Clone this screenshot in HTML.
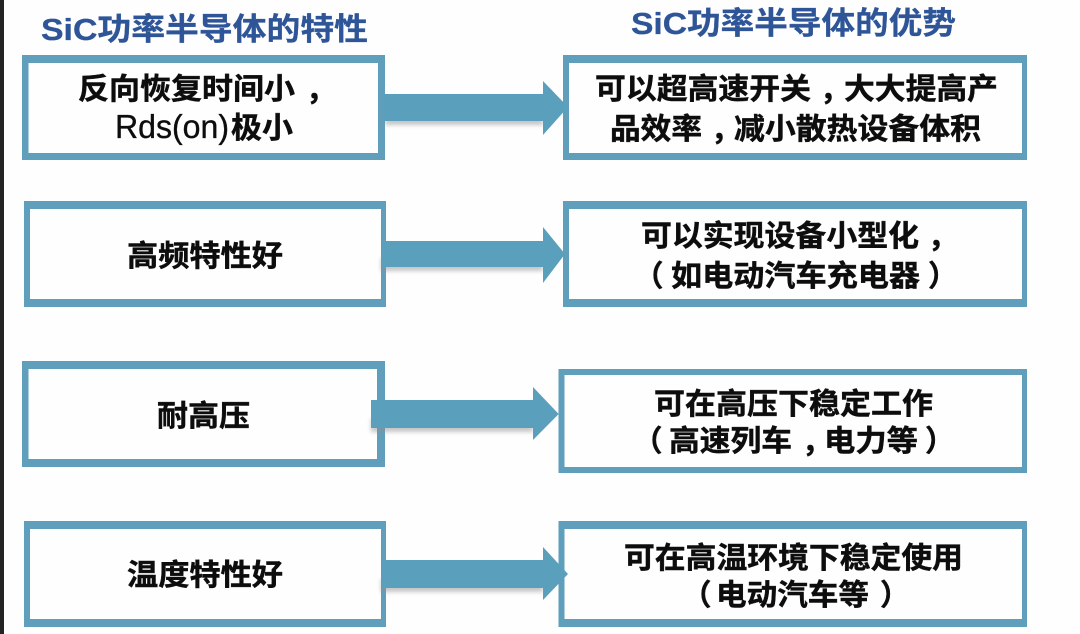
<!DOCTYPE html>
<html lang="zh">
<head>
<meta charset="utf-8">
<style>
html,body{margin:0;padding:0;width:1080px;height:634px;overflow:hidden;background:#fefefe}
svg{display:block}
text{font-family:"Liberation Sans","Noto Sans CJK SC",sans-serif;font-weight:700;fill:#111}
.cn{font-family:"Noto Sans CJK SC","Liberation Sans",sans-serif;stroke:#111;stroke-width:.45}
.t{fill:#2f5597;font-size:31px;stroke:#2f5597;stroke-width:.3}
.b{font-size:29.500px}
.r{font-weight:400;font-size:33px;stroke:#111;stroke-width:.35}
</style>
</head>
<body>
<svg width="1080" height="634" viewBox="0 0 1080 634" xmlns="http://www.w3.org/2000/svg">
<defs>
<filter id="s" x="-5%" y="-30%" width="110%" height="170%"><feGaussianBlur stdDeviation="2"/></filter>
<filter id="soft" x="-2%" y="-10%" width="104%" height="120%"><feGaussianBlur stdDeviation="0.35"/></filter>
</defs>
<rect width="1080" height="634" fill="#fefefe"/>
<rect width="4" height="634" fill="#232323"/>

<g fill="#5f9fbc">
<path d="M22 55H385V160H22ZM28.500 63V153H378V63Z" fill-rule="evenodd"/>
<path d="M24 201H386V307H24ZM30 209V299H381V209Z" fill-rule="evenodd"/>
<path d="M22 361H385V467H22ZM28.500 369V459H377V369Z" fill-rule="evenodd"/>
<path d="M24 521H386V627H24ZM30 529V619H381V529Z" fill-rule="evenodd"/>
<path d="M563 55H1027V160H563ZM569 63V153H1022V63Z" fill-rule="evenodd"/>
<path d="M563 201H1027V307H563ZM569 209V299H1022V209Z" fill-rule="evenodd"/>
<path d="M558.500 369H1027V473H558.500ZM564.500 375V467H1022V375Z" fill-rule="evenodd"/>
<path d="M558.500 521H1027V627H558.500ZM564.500 529V619H1022V529Z" fill-rule="evenodd"/>
</g>

<g fill="#8f8f8f" opacity=".5" filter="url(#s)">
<path d="M385 112H543V125H385Z"/>
<path d="M381 258H543V271H381Z"/>
<path d="M371 419H533V432H371Z"/>
<path d="M381 579H543V592H381Z"/>
</g>
<g fill="#5aa0bd">
<path d="M383 94H543V81L568 107L543 135V121H383Z"/>
<path d="M381 241H543V227L565 254L543 283V267H381Z"/>
<path d="M371 400H533V387L558.700 414L533 440V428H371Z"/>
<path d="M381 560H543V547L568 574L543 600V588H381Z"/>
</g>

<g filter="url(#soft)">
<text class="t" x="41" y="40" textLength="327" lengthAdjust="spacingAndGlyphs">SiC功率半导体的特性</text>
<text class="t" x="631" y="34" textLength="325" lengthAdjust="spacingAndGlyphs">SiC功率半导体的优势</text>

<text class="cn b" x="78" y="99" textLength="217" lengthAdjust="spacingAndGlyphs">反向恢复时间小</text>
<text class="cn b" x="306" y="100">，</text>
<text class="r" x="115" y="138" textLength="114" lengthAdjust="spacingAndGlyphs">Rds(on)</text>
<text class="cn b" x="231" y="138" textLength="62" lengthAdjust="spacingAndGlyphs">极小</text>
<text class="cn b" x="127" y="266" textLength="156" lengthAdjust="spacingAndGlyphs">高频特性好</text>
<text class="cn b" x="157" y="426" textLength="93" lengthAdjust="spacingAndGlyphs">耐高压</text>
<text class="cn b" x="127" y="585" textLength="156" lengthAdjust="spacingAndGlyphs">温度特性好</text>

<text class="cn b" x="595" y="99" textLength="216" lengthAdjust="spacingAndGlyphs">可以超高速开关</text>
<text class="cn b" x="820" y="100">，</text>
<text class="cn b" x="844" y="99" textLength="154" lengthAdjust="spacingAndGlyphs">大大提高产</text>
<text class="cn b" x="610" y="139" textLength="92" lengthAdjust="spacingAndGlyphs">品效率</text>
<text class="cn b" x="711" y="140">，</text>
<text class="cn b" x="734" y="139" textLength="247" lengthAdjust="spacingAndGlyphs">减小散热设备体积</text>
<text class="cn b" x="641" y="246" textLength="278" lengthAdjust="spacingAndGlyphs">可以实现设备小型化</text>
<text class="cn b" x="928" y="247">，</text>
<text class="cn b" x="634" y="286">（</text>
<text class="cn b" x="671" y="286" textLength="249" lengthAdjust="spacingAndGlyphs">如电动汽车充电器</text>
<text class="cn b" x="928" y="286">）</text>
<text class="cn b" x="654" y="414" textLength="279" lengthAdjust="spacingAndGlyphs">可在高压下稳定工作</text>
<text class="cn b" x="633" y="451">（</text>
<text class="cn b" x="669" y="451" textLength="123" lengthAdjust="spacingAndGlyphs">高速列车</text>
<text class="cn b" x="802" y="452">，</text>
<text class="cn b" x="824" y="451" textLength="94" lengthAdjust="spacingAndGlyphs">电力等</text>
<text class="cn b" x="925" y="451">）</text>
<text class="cn b" x="624" y="568" textLength="339" lengthAdjust="spacingAndGlyphs">可在高温环境下稳定使用</text>
<text class="cn b" x="682" y="605">（</text>
<text class="cn b" x="716" y="605" textLength="153" lengthAdjust="spacingAndGlyphs">电动汽车等</text>
<text class="cn b" x="880" y="605">）</text>
</g>
</svg>
</body>
</html>
